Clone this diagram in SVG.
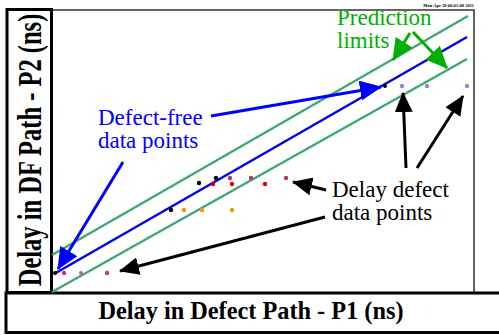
<svg xmlns="http://www.w3.org/2000/svg" width="499" height="335" viewBox="0 0 499 335">
<style>
.box{fill:none;stroke:#000;stroke-width:3}
.frame{fill:none;stroke:#333;stroke-width:1.5}
.axis{font-family:"Liberation Serif",serif;font-weight:bold;fill:#000}
.lbl{font-family:"Liberation Serif",serif;font-size:23px}
.gl{stroke:#3daa72;stroke-width:2.5;fill:none}
.bl{stroke:#0000ee;stroke-width:2.5;fill:none}
.ab{stroke:#0000ff;stroke-width:3;fill:none}
.ak{stroke:#000;stroke-width:3;fill:none}
.ag{stroke:#00b000;stroke-width:3;fill:none}
</style>
<defs>
<marker id="hb" markerUnits="userSpaceOnUse" markerWidth="22" markerHeight="20" refX="21" refY="10" orient="auto"><path d="M0,0 L22,10 L0,20 z" fill="#0000ff"/></marker>
<marker id="hk" markerUnits="userSpaceOnUse" markerWidth="20" markerHeight="18" refX="19" refY="9" orient="auto"><path d="M0,0 L20,9 L0,18 z" fill="#000"/></marker>
<marker id="hg" markerUnits="userSpaceOnUse" markerWidth="22" markerHeight="20" refX="21" refY="10" orient="auto"><path d="M0,0 L22,10 L0,20 z" fill="#00b000"/></marker>
</defs>
<rect width="499" height="335" fill="#fff"/>
<g id="plot-frame">
<path class="frame" d="M52,10 H474 V292"/>
<text x="474" y="6.5" text-anchor="end" font-family="Liberation Serif,serif" font-weight="bold" font-size="4.5">Mon Apr 18 00:05:08 2011</text>
</g>
<g id="y-axis-label">
<rect class="box" x="7" y="9.5" width="44.5" height="283"/>
<text class="axis" font-size="24.5" transform="translate(41,150) rotate(-90) scale(1,1.36)" text-anchor="middle">Delay in DF Path - P2 (ns)</text>
</g>
<g id="x-axis-label">
<rect class="box" x="6" y="293" width="500" height="39.5"/>
<text class="axis" font-size="24.3" x="251" y="318.5" text-anchor="middle">Delay in Defect Path - P1 (ns)</text>
</g>
<g id="limit-lines">
<path class="gl" d="M52,255 L468,16"/>
<path class="bl" d="M54,274 L467,37"/>
<path class="gl" d="M52,292 L467,59"/>
</g>
<g id="data-points">
<circle cx="55" cy="273" r="2" fill="#000"/>
<circle cx="64" cy="273" r="2.2" fill="#d42a8c"/>
<circle cx="81" cy="273" r="2" fill="#c0609a"/>
<circle cx="107" cy="273" r="2.2" fill="#c8308e"/>
<circle cx="171" cy="210" r="2.2" fill="#000"/>
<circle cx="184" cy="210" r="2.2" fill="#f0901a"/>
<circle cx="202" cy="210" r="2.2" fill="#f0901a"/>
<circle cx="232" cy="210" r="2.2" fill="#f0901a"/>
<circle cx="199" cy="183" r="2.2" fill="#000"/>
<circle cx="216" cy="178" r="2.2" fill="#000"/>
<circle cx="213" cy="184" r="2.2" fill="#e00000"/>
<circle cx="230" cy="178" r="2.2" fill="#b03a70"/>
<circle cx="232" cy="184" r="2.2" fill="#e00000"/>
<circle cx="251" cy="178" r="2.2" fill="#b03a70"/>
<circle cx="265" cy="184" r="2.2" fill="#e00000"/>
<circle cx="286" cy="178" r="2.2" fill="#b03a70"/>
<circle cx="385" cy="86" r="2" fill="#000"/>
<circle cx="402" cy="86" r="2.2" fill="#9b7fe0"/>
<circle cx="427" cy="86" r="2.2" fill="#9b7fe0"/>
<circle cx="467" cy="86" r="2.2" fill="#9b7fe0"/>
</g>
<g id="defect-free-label">
<text class="lbl" fill="#0000ff" x="98" y="124.5">Defect-free</text>
<text class="lbl" fill="#0000ff" x="98" y="147.5">data points</text>
</g>
<g id="prediction-label">
<text class="lbl" fill="#00b000" x="337" y="25">Prediction</text>
<text class="lbl" fill="#00b000" x="337" y="48">limits</text>
</g>
<g id="defect-label">
<text class="lbl" fill="#000" x="332" y="197">Delay defect</text>
<text class="lbl" fill="#000" x="332" y="220">data points</text>
</g>
<g id="connectors">
<path class="ab" d="M211,116 L381,87" marker-end="url(#hb)"/>
<path class="ab" d="M123,162 L58,269" marker-end="url(#hb)"/>
<path class="ag" d="M410,33 L393,60" marker-end="url(#hg)"/>
<path class="ag" d="M413,32 L447,68" marker-end="url(#hg)"/>
<path class="ak" d="M326,190 L293,182" marker-end="url(#hk)"/>
<path class="ak" d="M325,217 L120,271" marker-end="url(#hk)"/>
<path class="ak" d="M406,168 L403,93" marker-end="url(#hk)"/>
<path class="ak" d="M417,168 L463,96" marker-end="url(#hk)"/>
</g>
</svg>
